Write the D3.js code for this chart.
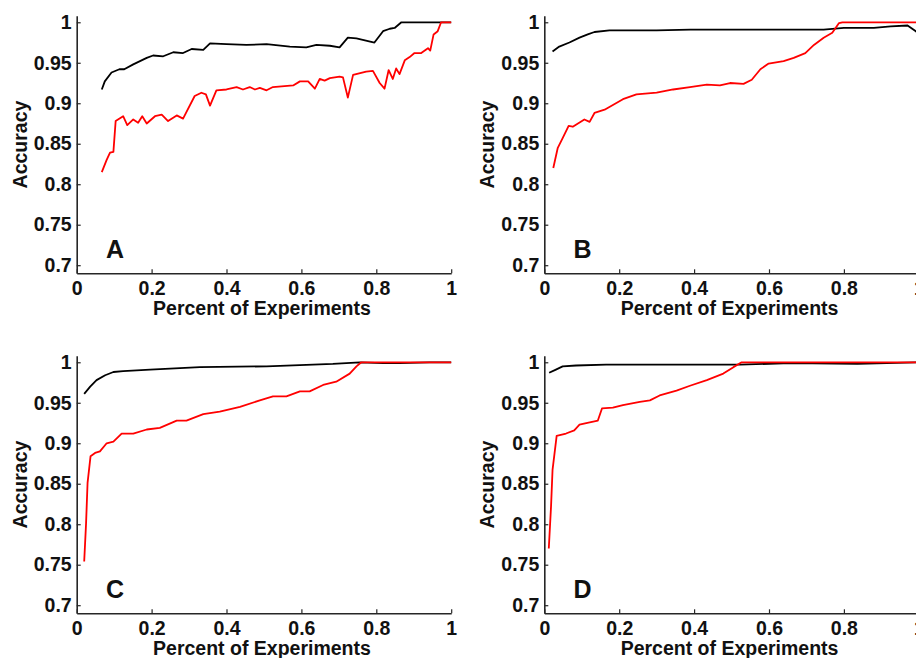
<!DOCTYPE html>
<html>
<head>
<meta charset="utf-8">
<script src="https://cdn.jsdelivr.net/npm/d3@7"></script>
<style>
  html, body { margin: 0; padding: 0; background: #fff; }
  svg { display: block; }
  text { font-family: "Liberation Sans", Arial, sans-serif; font-weight: bold; fill: #111; }
</style>
</head>
<body>
<svg id="chart" width="916" height="658"></svg>
<script>
// ---------------- DATA ----------------
const panelLetters = ["A", "B", "C", "D"];
const xTicks = [0, 0.2, 0.4, 0.6, 0.8, 1];
const yTicks = [0.7, 0.75, 0.8, 0.85, 0.9, 0.95, 1];
const xLabel = "Percent of Experiments";
const yLabel = "Accuracy";

// Panel A
const blackA = [[0.067,0.917],[0.075,0.927],[0.093,0.938],[0.114,0.942],[0.127,0.942],[0.151,0.948],[0.187,0.956],[0.204,0.959],[0.231,0.958],[0.258,0.963],[0.284,0.962],[0.307,0.967],[0.338,0.966],[0.356,0.974],[0.4,0.973],[0.453,0.972],[0.507,0.973],[0.569,0.970],[0.613,0.969],[0.64,0.972],[0.676,0.971],[0.702,0.969],[0.724,0.981],[0.747,0.980],[0.795,0.975],[0.818,0.989],[0.836,0.992],[0.849,0.993],[0.867,1.0],[1.0,1.0]];
const redA = [[0.067,0.815],[0.08,0.830],[0.089,0.839],[0.098,0.840],[0.104,0.878],[0.124,0.884],[0.135,0.873],[0.151,0.880],[0.164,0.876],[0.175,0.884],[0.187,0.875],[0.209,0.884],[0.227,0.886],[0.244,0.878],[0.267,0.885],[0.284,0.881],[0.315,0.909],[0.333,0.913],[0.345,0.911],[0.356,0.897],[0.373,0.916],[0.4,0.917],[0.427,0.920],[0.444,0.917],[0.462,0.920],[0.476,0.917],[0.489,0.919],[0.507,0.916],[0.524,0.920],[0.578,0.922],[0.596,0.927],[0.618,0.927],[0.636,0.918],[0.649,0.930],[0.662,0.928],[0.676,0.931],[0.702,0.933],[0.711,0.932],[0.724,0.907],[0.738,0.935],[0.773,0.939],[0.791,0.940],[0.809,0.925],[0.822,0.918],[0.833,0.941],[0.844,0.930],[0.853,0.943],[0.862,0.936],[0.876,0.953],[0.889,0.957],[0.902,0.962],[0.92,0.962],[0.938,0.968],[0.944,0.965],[0.953,0.985],[0.964,0.989],[0.973,1.0],[1.0,1.0]];

// Panel B
const blackB = [[0.022,0.964],[0.04,0.970],[0.067,0.975],[0.094,0.981],[0.116,0.985],[0.134,0.988],[0.174,0.990],[0.3,0.990],[0.39,0.991],[0.48,0.991],[0.57,0.991],[0.66,0.991],[0.746,0.991],[0.8,0.993],[0.88,0.993],[0.925,0.995],[0.97,0.996],[0.992,0.989],[1.0,0.985]];
const redB = [[0.024,0.820],[0.036,0.845],[0.049,0.857],[0.065,0.872],[0.076,0.871],[0.107,0.880],[0.121,0.877],[0.134,0.888],[0.161,0.892],[0.21,0.905],[0.246,0.911],[0.3,0.913],[0.344,0.917],[0.389,0.920],[0.434,0.923],[0.469,0.922],[0.496,0.925],[0.532,0.924],[0.554,0.929],[0.577,0.942],[0.599,0.949],[0.639,0.952],[0.666,0.956],[0.697,0.962],[0.72,0.972],[0.746,0.981],[0.769,0.987],[0.787,0.999],[0.796,1.0],[1.0,1.0]];

// Panel C
const blackC = [[0.020,0.961],[0.036,0.970],[0.053,0.978],[0.076,0.984],[0.098,0.988],[0.124,0.989],[0.196,0.991],[0.329,0.994],[0.507,0.995],[0.684,0.998],[0.756,1.0],[0.818,0.999],[0.862,0.999],[0.942,1.0],[1.0,1.0]];
const redC = [[0.020,0.754],[0.025,0.801],[0.029,0.851],[0.037,0.884],[0.049,0.888],[0.062,0.890],[0.080,0.900],[0.098,0.902],[0.12,0.912],[0.151,0.912],[0.187,0.917],[0.222,0.919],[0.267,0.928],[0.293,0.928],[0.338,0.936],[0.382,0.939],[0.436,0.945],[0.489,0.953],[0.524,0.958],[0.56,0.958],[0.596,0.964],[0.622,0.964],[0.658,0.972],[0.693,0.976],[0.729,0.986],[0.747,0.995],[0.76,1.0],[1.0,1.0]];

// Panel D
const blackD = [[0.013,0.987],[0.031,0.991],[0.049,0.995],[0.085,0.996],[0.165,0.997],[0.389,0.997],[0.523,0.997],[0.657,0.999],[0.836,0.998],[1.0,1.0]];
const redD = [[0.012,0.770],[0.018,0.822],[0.022,0.867],[0.033,0.909],[0.058,0.912],[0.080,0.916],[0.094,0.923],[0.112,0.925],[0.143,0.928],[0.154,0.943],[0.183,0.944],[0.21,0.947],[0.255,0.951],[0.282,0.953],[0.308,0.959],[0.353,0.965],[0.389,0.971],[0.434,0.978],[0.478,0.986],[0.505,0.994],[0.527,1.0],[1.0,1.0]];

const blackSeries = [blackA, blackB, blackC, blackD];
const redSeries = [redA, redB, redC, redD];

// ---------------- LAYOUT ----------------
const svg = d3.select("#chart");
const plotW = 374.5, plotH = 257.5;
const origins = [[76.7, 15.8], [544.3, 15.8], [76.7, 355.8], [544.3, 355.8]];
const fontSize = 19.5;

panelLetters.forEach((letter, i) => {
  const [ox, oy] = origins[i];
  const g = svg.append("g").attr("transform", `translate(${ox},${oy})`);
  const x = d3.scaleLinear().domain([0, 1]).range([0, plotW]);
  const y = d3.scaleLinear().domain([0.69, 1.008]).range([plotH, 0]);

  const line = d3.line().x(d => x(d[0])).y(d => y(d[1]));

  g.append("path").datum(blackSeries[i])
    .attr("d", line).attr("fill", "none")
    .attr("stroke", "#000").attr("stroke-width", 1.8).attr("stroke-linejoin", "round");
  g.append("path").datum(redSeries[i])
    .attr("d", line).attr("fill", "none")
    .attr("stroke", "#ff0000").attr("stroke-width", 1.8).attr("stroke-linejoin", "round");

  const xAxis = g.append("g").attr("transform", `translate(0,${plotH})`)
    .call(d3.axisBottom(x).tickValues(xTicks).tickFormat(d => d3.format("")(d))
      .tickSizeInner(-4).tickSizeOuter(0).tickPadding(8));
  const yAxis = g.append("g")
    .call(d3.axisLeft(y).tickValues(yTicks).tickFormat(d => d3.format("")(d))
      .tickSizeInner(-4).tickSizeOuter(0).tickPadding(5));

  [xAxis, yAxis].forEach(a => {
    a.select(".domain").attr("stroke", "#262626").attr("stroke-width", 1.6);
    a.selectAll(".tick line").attr("stroke", "#262626").attr("stroke-width", 1.2);
    a.selectAll(".tick text")
      .attr("font-family", '"Liberation Sans", Arial, sans-serif')
      .attr("font-weight", "bold").attr("font-size", fontSize).attr("fill", "#111");
  });

  g.append("text")
    .attr("x", plotW / 2 - 2).attr("y", plotH + 41.7)
    .attr("text-anchor", "middle").attr("font-size", fontSize)
    .text(xLabel);

  g.append("text")
    .attr("transform", `translate(-50,${plotH / 2}) rotate(-90)`)
    .attr("text-anchor", "middle").attr("font-size", fontSize)
    .text(yLabel);

  g.append("text")
    .attr("x", x(0.078)).attr("y", y(0.709))
    .attr("font-size", 25)
    .text(letter);
});
</script>
</body>
</html>
